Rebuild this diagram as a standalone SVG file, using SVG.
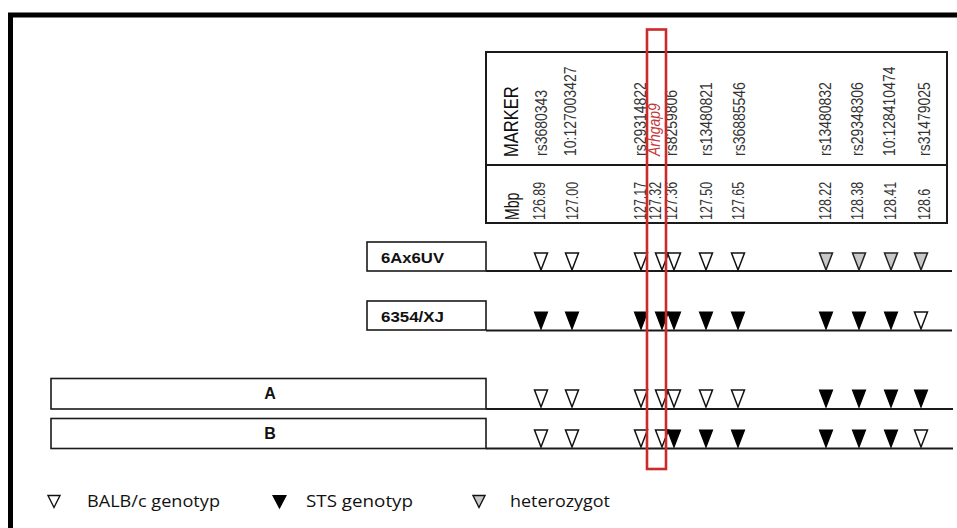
<svg xmlns="http://www.w3.org/2000/svg" width="957" height="528" viewBox="0 0 957 528">
  <style>
    .frame { fill: none; stroke: #000; stroke-width: 5; }
    .tbl { fill: none; stroke: #1a1a1a; stroke-width: 2; }
    .box { fill: #fff; stroke: #1a1a1a; stroke-width: 1.6; }
    .rowline { stroke: #1a1a1a; stroke-width: 2; fill: none; }
    .hdr { font-family: "Liberation Sans", Arial, sans-serif; font-size: 14px; fill: #333; }
    .num { font-size: 12.5px; }
    .big { font-size: 16.5px; fill: #111; }
    .unit { font-size: 14px; fill: #111; }
    .gene { font-style: italic; fill: #c0393b; }
    .lab { font-family: "Liberation Sans", Arial, sans-serif; font-size: 14.5px; font-weight: bold; fill: #111; }
    .cap { font-size: 16px; }
    .leg { font-family: "Open Sans", "Noto Sans", sans-serif; font-size: 16.5px; fill: #111; }
    .w { fill: #fff; stroke: #111; stroke-width: 1.5; stroke-linejoin: miter; }
    .b { fill: #000; stroke: #000; stroke-width: 1.2; }
    .g { fill: #c8c8c8; stroke: #222; stroke-width: 1.5; }
    .hi { fill: none; stroke: #cc2a2a; stroke-width: 2.6; }
    .lw { fill: #fff; stroke: #111; stroke-width: 1.4; }
  </style>
  <defs>
    <polygon id="tw" class="w" points="-6.5,0 6.5,0 0,17"/>
    <polygon id="tb" class="b" points="-6.5,0 6.5,0 0,17"/>
    <polygon id="tg" class="g" points="-6.5,0 6.5,0 0,17"/>
  </defs>

  <rect width="957" height="528" fill="#fff"/>
  <!-- page frame (top and left edges) -->
  <path class="frame" d="M10.5,528 V15 H957"/>

  <!-- marker table -->
  <g id="marker-table">
    <rect class="tbl" x="486" y="52" width="461" height="171"/>
    <line class="tbl" x1="486" y1="165" x2="947" y2="165"/>
    <text class="hdr big" transform="translate(518,157) scale(1.2,1) rotate(-90)">MARKER</text>
    <text class="hdr unit" transform="translate(519,220) scale(1.45,1) rotate(-90)">Mbp</text>
    <g class="hdr">
      <text transform="translate(547,156) scale(1.2,1) rotate(-90)">rs3680343</text>
      <text transform="translate(576,156) scale(1.2,1) rotate(-90)">10:127003427</text>
      <text transform="translate(646,156) scale(1.2,1) rotate(-90)">rs29314822</text>
      <text class="gene" transform="translate(660,156) scale(1.2,1) rotate(-90)">Arhgap9</text>
      <text transform="translate(677,156) scale(1.2,1) rotate(-90)">rs8259806</text>
      <text transform="translate(712,156) scale(1.2,1) rotate(-90)">rs13480821</text>
      <text transform="translate(745,156) scale(1.2,1) rotate(-90)">rs36885546</text>
      <text transform="translate(831,156) scale(1.2,1) rotate(-90)">rs13480832</text>
      <text transform="translate(863,156) scale(1.2,1) rotate(-90)">rs29348306</text>
      <text transform="translate(895,156) scale(1.2,1) rotate(-90)">10:128410474</text>
      <text transform="translate(930,156) scale(1.2,1) rotate(-90)">rs31479025</text>
    </g>
    <g class="hdr num">
      <text transform="translate(545,220) scale(1.35,1) rotate(-90)">126.89</text>
      <text transform="translate(578,220) scale(1.35,1) rotate(-90)">127.00</text>
      <text transform="translate(646,220) scale(1.35,1) rotate(-90)">127.17</text>
      <text transform="translate(661,220) scale(1.35,1) rotate(-90)">127.32</text>
      <text transform="translate(677,220) scale(1.35,1) rotate(-90)">127.36</text>
      <text transform="translate(712,220) scale(1.35,1) rotate(-90)">127.50</text>
      <text transform="translate(744,220) scale(1.35,1) rotate(-90)">127.65</text>
      <text transform="translate(831,220) scale(1.35,1) rotate(-90)">128.22</text>
      <text transform="translate(863,220) scale(1.35,1) rotate(-90)">128.38</text>
      <text transform="translate(896,220) scale(1.35,1) rotate(-90)">128.41</text>
      <text transform="translate(930,220) scale(1.35,1) rotate(-90)">128.6</text>
    </g>
  </g>

  <!-- strain 6Ax6UV -->
  <g id="row-6Ax6UV">
    <rect class="box" x="367" y="242" width="119" height="29"/>
    <text class="lab" x="381" y="263" textLength="63" lengthAdjust="spacingAndGlyphs">6Ax6UV</text>
    <line class="rowline" x1="486" y1="271" x2="952" y2="271"/>
    <use href="#tw" x="541" y="253"/>
    <use href="#tw" x="572" y="253"/>
    <use href="#tw" x="641" y="253"/>
    <use href="#tw" x="662" y="253"/>
    <use href="#tw" x="674" y="253"/>
    <use href="#tw" x="706" y="253"/>
    <use href="#tw" x="738" y="253"/>
    <use href="#tg" x="826" y="253"/>
    <use href="#tg" x="859" y="253"/>
    <use href="#tg" x="891" y="253"/>
    <use href="#tg" x="921" y="253"/>
  </g>

  <!-- strain 6354/XJ -->
  <g id="row-6354XJ">
    <rect class="box" x="367" y="301" width="119" height="29"/>
    <text class="lab" x="381" y="322" textLength="63" lengthAdjust="spacingAndGlyphs">6354/XJ</text>
    <line class="rowline" x1="486" y1="330.5" x2="952" y2="330.5"/>
    <use href="#tb" x="541" y="312"/>
    <use href="#tb" x="572" y="312"/>
    <use href="#tb" x="641" y="312"/>
    <use href="#tb" x="662" y="312"/>
    <use href="#tb" x="674" y="312"/>
    <use href="#tb" x="706" y="312"/>
    <use href="#tb" x="738" y="312"/>
    <use href="#tb" x="826" y="312"/>
    <use href="#tb" x="859" y="312"/>
    <use href="#tb" x="891" y="312"/>
    <use href="#tw" x="921" y="312"/>
  </g>

  <!-- line A -->
  <g id="row-A">
    <rect class="box" x="51" y="378.5" width="435" height="30.5"/>
    <text class="lab cap" x="270" y="399" text-anchor="middle">A</text>
    <line class="rowline" x1="486" y1="409" x2="953" y2="409"/>
    <use href="#tw" x="541" y="390"/>
    <use href="#tw" x="572" y="390"/>
    <use href="#tw" x="641" y="390"/>
    <use href="#tw" x="662" y="390"/>
    <use href="#tw" x="674" y="390"/>
    <use href="#tw" x="706" y="390"/>
    <use href="#tw" x="738" y="390"/>
    <use href="#tb" x="826" y="390"/>
    <use href="#tb" x="859" y="390"/>
    <use href="#tb" x="891" y="390"/>
    <use href="#tb" x="921" y="390"/>
  </g>

  <!-- line B -->
  <g id="row-B">
    <rect class="box" x="51" y="418.5" width="435" height="30"/>
    <text class="lab cap" x="270" y="439" text-anchor="middle">B</text>
    <line class="rowline" x1="486" y1="448.5" x2="953" y2="448.5"/>
    <use href="#tw" x="541" y="430"/>
    <use href="#tw" x="572" y="430"/>
    <use href="#tw" x="641" y="430"/>
    <use href="#tw" x="662" y="430"/>
    <use href="#tb" x="674" y="430"/>
    <use href="#tb" x="706" y="430"/>
    <use href="#tb" x="738" y="430"/>
    <use href="#tb" x="826" y="430"/>
    <use href="#tb" x="859" y="430"/>
    <use href="#tb" x="891" y="430"/>
    <use href="#tw" x="921" y="430"/>
  </g>

  <!-- Arhgap9 highlight -->
  <g id="highlight">
    <rect class="hi" x="647" y="29.5" width="19" height="439.5"/>
  </g>

  <!-- legend -->
  <g id="legend">
    <polygon class="lw" points="48,495.5 60,495.5 54,507.5"/>
    <text class="leg" x="87" y="507" textLength="133" lengthAdjust="spacingAndGlyphs">BALB/c genotyp</text>
    <polygon class="b" points="273,495.5 286,495.5 279.5,508"/>
    <text class="leg" x="306" y="507" textLength="107" lengthAdjust="spacingAndGlyphs">STS genotyp</text>
    <polygon class="lw" points="473,495.5 485,495.5 479,507.5" style="fill:#c8c8c8"/>
    <text class="leg" x="510" y="507" textLength="100" lengthAdjust="spacingAndGlyphs">heterozygot</text>
  </g>
</svg>
